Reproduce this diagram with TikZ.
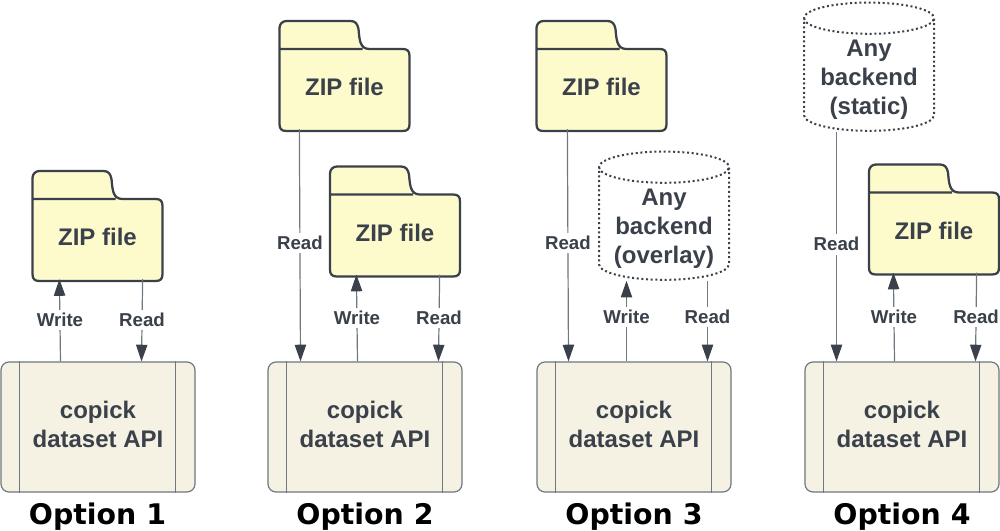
\documentclass[tikz,border=0pt]{standalone}
\usepackage{fontspec}
\setmainfont{Liberation Sans}
\newfontfamily\optfont{DejaVu Sans}
\usetikzlibrary{arrows.meta,shapes.geometric}
\definecolor{inkdark}{HTML}{3A414A}
\definecolor{linegray}{HTML}{6F7780}
\definecolor{folderfill}{HTML}{FDFBCC}
\definecolor{apifill}{HTML}{F5F2E3}
\tikzset{
	boxtext/.style={font=\fontsize{18}{21.8}\selectfont\bfseries,text=inkdark,align=center},
	ziptext/.style={boxtext,minimum width=97.5pt,minimum height=61.5pt,inner sep=0pt},
	foldershape/.style={draw=inkdark,line width=1.7pt,fill=folderfill,line join=round},
	api/.style={boxtext,draw=linegray,line width=.9pt,fill=apifill,rounded corners=6pt,minimum width=145.5pt,minimum height=97.5pt,inner sep=0pt,text depth=4.5pt},
	apibar/.style={draw=linegray,line width=.9pt},
	store/.style={boxtext,cylinder,shape border rotate=90,aspect=.26,draw=inkdark,dotted,line width=1.5pt,fill=white,text width=90pt,minimum width=97.5pt,minimum height=81pt,inner xsep=0pt,inner ysep=-3pt},
	com/.style={draw=linegray,line width=.9pt,-{Triangle[length=12.5pt,width=8.5pt,color=inkdark]}},
	lab/.style={font=\fontsize{14}{16}\selectfont\bfseries,text=inkdark,fill=white,inner xsep=1pt,inner ysep=2.5pt},
	optlabel/.style={font=\optfont\fontsize{21.3}{24}\selectfont\bfseries,text=black}
}
\newcommand{\lidgap}{\rule{0pt}{19pt}}
\newcommand{\zipfolder}[3]{
	\begin{scope}[shift={(#2,#3)}]
		\draw[foldershape] (0,28) -- (0,7) .. controls (0,3) and (3,0) .. (7,0) -- (71,0)
			.. controls (76,0) and (78,3) .. (79,8) .. controls (80,18) and (80,28) .. (90,28)
			-- (123,28) .. controls (128,28) and (130,30) .. (130,35) -- (130,103)
			.. controls (130,108) and (128,110) .. (123,110) -- (7,110)
			.. controls (2,110) and (0,108) .. (0,103) -- cycle
			(0,28) -- (83,28)
			(65,66) node[ziptext] (#1) {ZIP file};
	\end{scope}
}
\begin{document}
\begin{tikzpicture}[x=.75pt,y=-.75pt]
	\useasboundingbox (0,0) rectangle (1000,531);

	% API boxes and captions
	\foreach \n/\x/\c in {1/98/97.5,2/365/365,3/634/634,4/902/902}{
		\node[api] (api\n) at (\x,427) {copick\\dataset API};
		\draw[apibar] ([shift={(19,0)}]api\n.north west) -- ([shift={(19,0)}]api\n.south west);
		\draw[apibar] ([shift={(-20,0)}]api\n.north east) -- ([shift={(-20,0)}]api\n.south east);
		\node[optlabel] (opt\n) at (\c,517) {Option \n};
	}

	% stores
	\zipfolder{zipa}{32.5}{171}
	\zipfolder{zipb}{279.5}{21}
	\zipfolder{zipc}{330}{166.5}
	\zipfolder{zipd}{536.5}{21}
	\zipfolder{zipe}{869}{164.5}
	\node[store] (over) at (664,224) {\lidgap Any\\backend\\(overlay)};
	\node[store] (stat) at (869,75) {\lidgap Any\\backend\\(static)};

	% option 1
	\draw[com] ([shift={(-37.5,0)}]api1.north) -- node[lab] (w1) {Write} ([shift={(28,0)}]zipa.south west);
	\draw[com] ([shift={(-21,0)}]zipa.south east) -- node[lab] (r1) {Read} ([shift={(43.5,0)}]api1.north);

	% option 2
	\draw[com] ([shift={(21,0)}]zipb.south west) -- node[lab,pos=.49] (r2a) {Read} ([shift={(-64.5,0)}]api2.north);
	\draw[com] ([shift={(-7.5,0)}]api2.north) -- node[lab] (w2) {Write} ([shift={(27.5,0)}]zipc.south west);
	\draw[com] ([shift={(-21.5,0)}]zipc.south east) -- node[lab] (r2b) {Read} ([shift={(73.5,0)}]api2.north);

	% option 3
	\draw[com] ([shift={(32,0)}]zipd.south west) -- node[lab,pos=.49] (r3a) {Read} ([shift={(-65.5,0)}]api3.north);
	\draw[com] ([shift={(-7.5,0)}]api3.north) -- node[lab,pos=.55] (w3) {Write} ([shift={(-37.5,0)}]over.south);
	\draw[com] ([shift={(43.5,0)}]over.south) -- node[lab,pos=.45] (r3b) {Read} ([shift={(73.5,0)}]api3.north);

	% option 4
	\draw[com] ([shift={(-32.5,0)}]stat.south) -- node[lab,pos=.49] (r4a) {Read} ([shift={(-65.5,0)}]api4.north);
	\draw[com] ([shift={(-7.5,0)}]api4.north) -- node[lab] (w4) {Write} ([shift={(25.5,0)}]zipe.south west);
	\draw[com] ([shift={(-23.5,0)}]zipe.south east) -- node[lab] (r4b) {Read} ([shift={(73.5,0)}]api4.north);
\end{tikzpicture}
\end{document}
